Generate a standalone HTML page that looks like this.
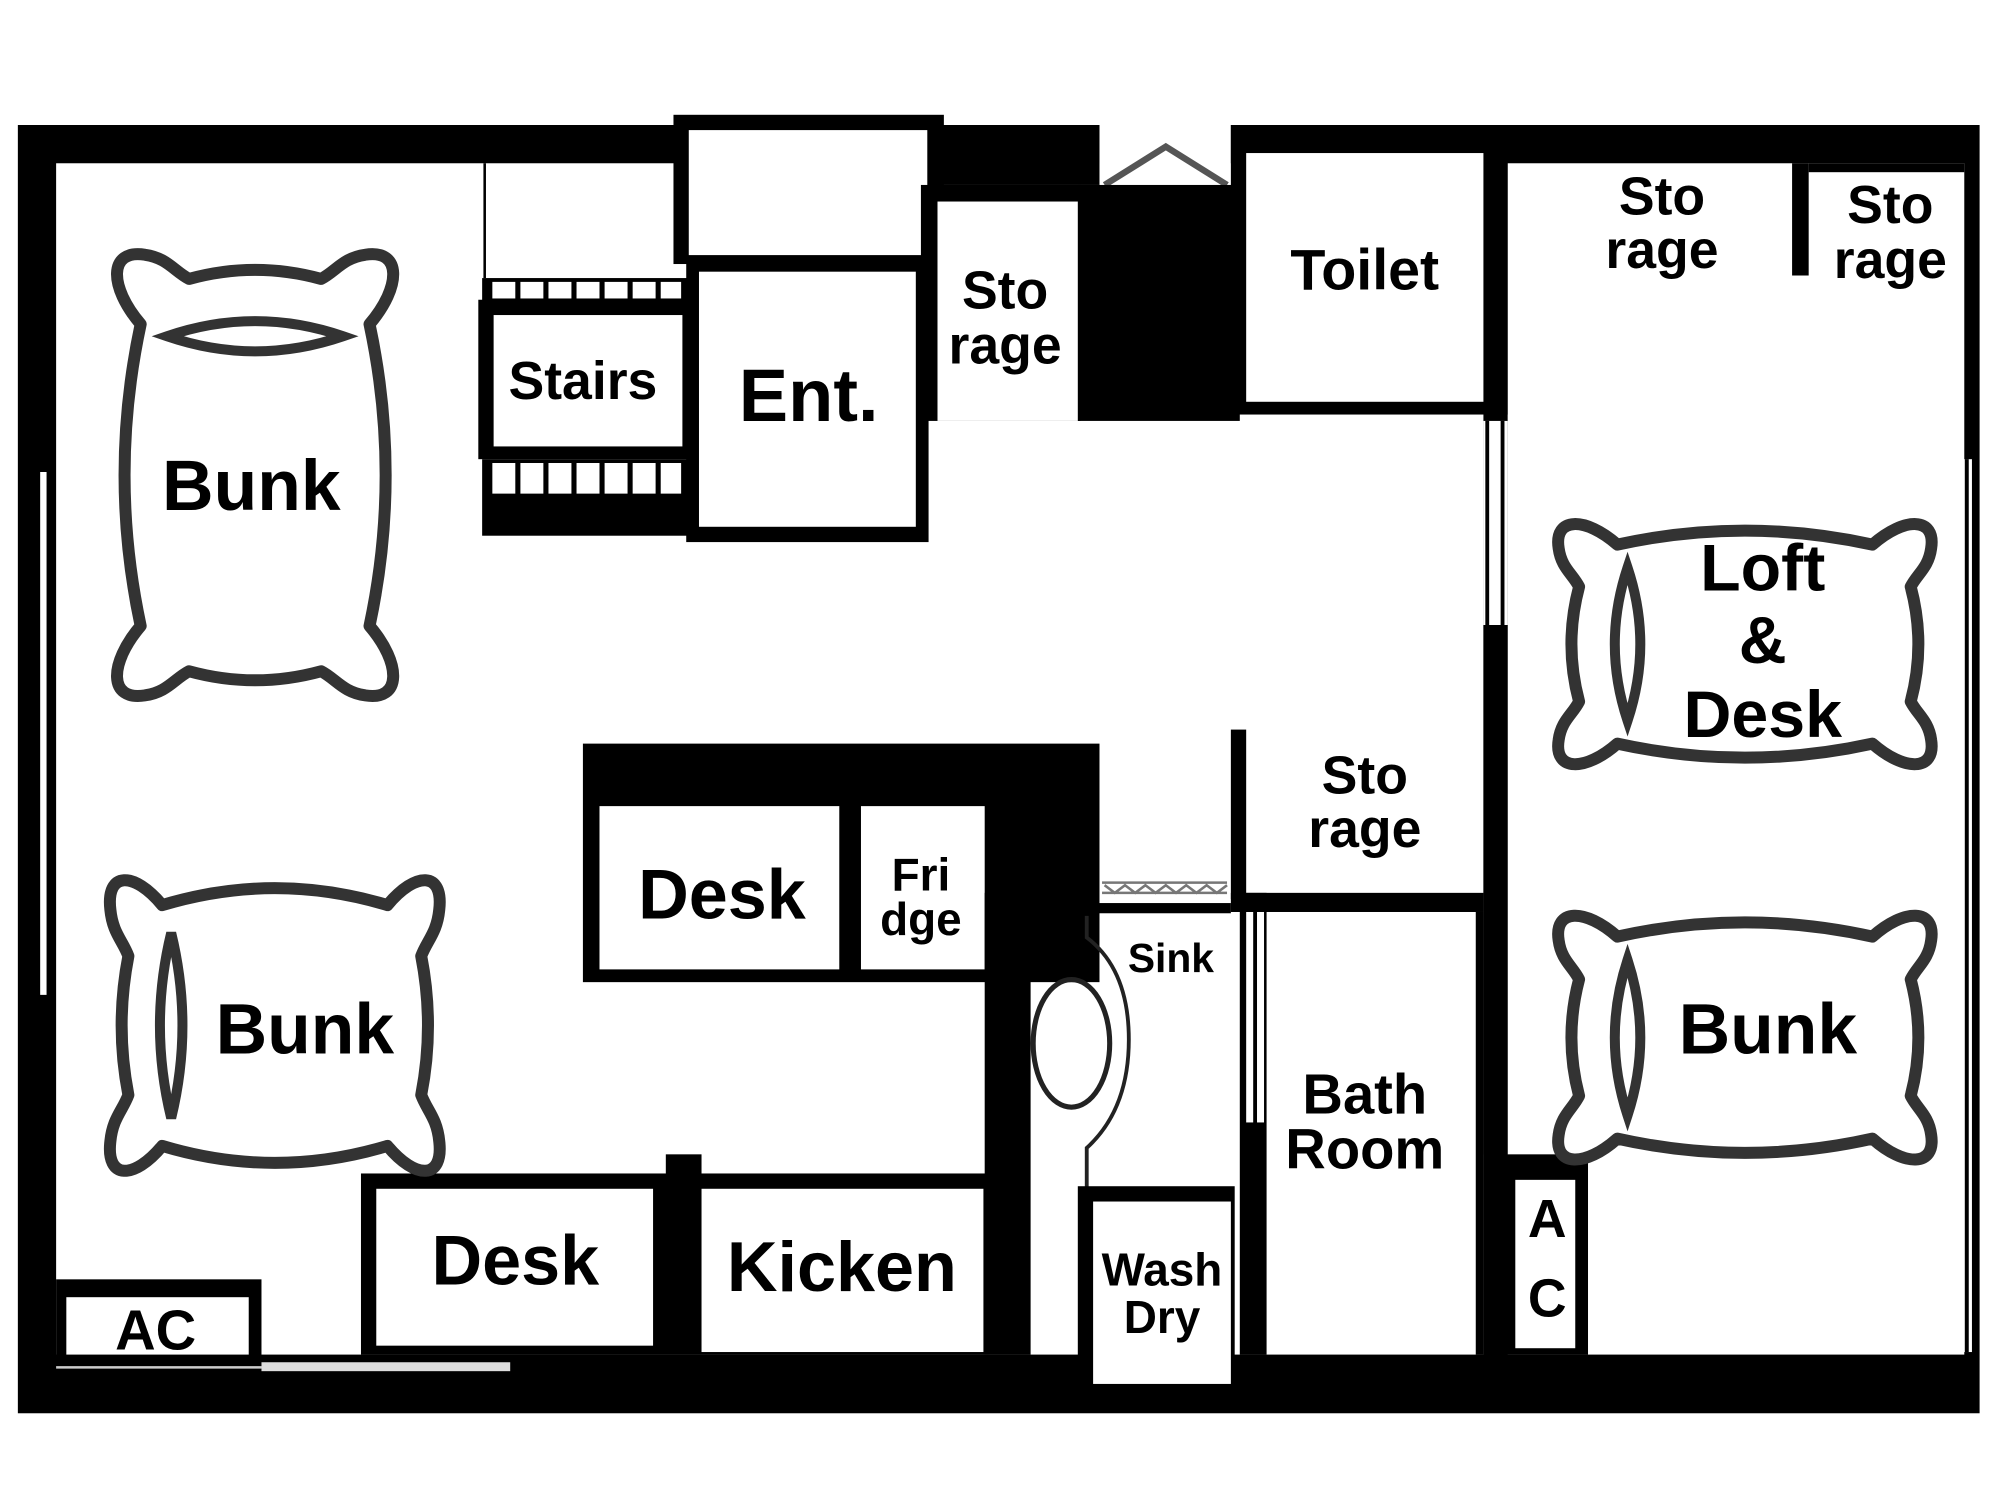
<!DOCTYPE html>
<html><head><meta charset="utf-8"><style>
html,body{margin:0;padding:0;background:#fff;}
svg{display:block;}
text{font-family:"Liberation Sans",sans-serif;font-weight:bold;fill:#000;text-anchor:middle;}
</style></head><body>
<svg width="2000" height="1500" viewBox="0 0 1568 1176" xmlns="http://www.w3.org/2000/svg">
<defs>
<g id="pil">
<path d="M50,22 Q150,0 250,22 C275,0 300,0 296,25 C294,40 285,45 280,55 Q292,100 280,145 C285,155 294,160 296,175 C300,200 275,200 250,178 Q150,200 50,178 C25,200 0,200 4,175 C6,160 15,155 20,145 Q8,100 20,55 C15,45 6,40 4,25 C0,0 25,0 50,22 Z" fill="#fff" stroke="#333" stroke-width="12" vector-effect="non-scaling-stroke" stroke-linejoin="round"/>
<path d="M58,40 Q38,100 58,160 Q78,100 58,40 Z" fill="none" stroke="#333" stroke-width="10" vector-effect="non-scaling-stroke"/>
</g>
</defs>
<rect width="1568" height="1176" fill="#fff"/>
<rect x="14" y="98" width="1538" height="1010" fill="#000"/>
<rect x="44" y="128" width="1119" height="934" fill="#fff"/>
<rect x="1182" y="128" width="358" height="934" fill="#fff"/>
<rect x="1163" y="330" width="19" height="160" fill="#fff"/>
<line x1="1166" y1="330" x2="1166" y2="490" stroke="#000" stroke-width="3"/>
<line x1="1178" y1="330" x2="1178" y2="490" stroke="#000" stroke-width="3"/>
<rect x="1540" y="360" width="6" height="700" fill="#fff"/>
<line x1="1542" y1="360" x2="1542" y2="1060" stroke="#000" stroke-width="3"/>
<rect x="1405" y="128" width="13" height="88" fill="#000"/>
<rect x="1418" y="128" width="122" height="7" fill="#000"/>
<line x1="34" y1="370" x2="34" y2="780" stroke="#fff" stroke-width="5"/>
<rect x="862" y="90" width="103" height="55" fill="#fff"/>
<path d="M866,145 L914,115 L962,145" fill="none" stroke="#555" stroke-width="5"/>
<rect x="728" y="98" width="134" height="47" fill="#000"/>
<rect x="845" y="145" width="127" height="185" fill="#000"/>
<rect x="528" y="90" width="212" height="117" fill="#000"/>
<rect x="540" y="102" width="187" height="98" fill="#fff"/>
<rect x="722" y="145" width="125" height="185" fill="#000"/>
<rect x="735" y="158" width="110" height="172" fill="#fff"/>
<rect x="538" y="205" width="190" height="220" fill="#000"/>
<rect x="548" y="213" width="170" height="200" fill="#fff"/>
<line x1="380" y1="128" x2="380" y2="218" stroke="#000" stroke-width="2"/>
<rect x="378" y="218" width="162" height="18" fill="#000"/>
<g fill="#fff"><rect x="386" y="221" width="18" height="13"/><rect x="408" y="221" width="18" height="13"/><rect x="430" y="221" width="18" height="13"/><rect x="452" y="221" width="18" height="13"/><rect x="474" y="221" width="18" height="13"/><rect x="496" y="221" width="18" height="13"/><rect x="518" y="221" width="16" height="13"/></g>
<rect x="375" y="235" width="165" height="125" fill="#000"/>
<rect x="387" y="247" width="148" height="103" fill="#fff"/>
<rect x="378" y="360" width="162" height="60" fill="#000"/>
<g fill="#fff"><rect x="386" y="363" width="18" height="24"/><rect x="408" y="363" width="18" height="24"/><rect x="430" y="363" width="18" height="24"/><rect x="452" y="363" width="18" height="24"/><rect x="474" y="363" width="18" height="24"/><rect x="496" y="363" width="18" height="24"/><rect x="518" y="363" width="16" height="24"/></g>
<rect x="965" y="98" width="217" height="227" fill="#000"/>
<rect x="977" y="120" width="186" height="195" fill="#fff"/>
<rect x="1163" y="490" width="19" height="415" fill="#000"/>
<rect x="965" y="572" width="12" height="133" fill="#000"/>
<rect x="965" y="700" width="198" height="15" fill="#000"/>
<rect x="972" y="700" width="21" height="362" fill="#000"/>
<rect x="977" y="715" width="14" height="165" fill="#fff"/>
<line x1="984" y1="715" x2="984" y2="880" stroke="#000" stroke-width="3"/>
<rect x="1157" y="715" width="6" height="347" fill="#000"/>
<rect x="457" y="583" width="405" height="187" fill="#000"/>
<rect x="470" y="632" width="188" height="128" fill="#fff"/>
<rect x="675" y="632" width="97" height="128" fill="#fff"/>
<rect x="772" y="700" width="36" height="362" fill="#000"/>
<path d="M864,692 L962,692 M864,700 L962,700 M866,694 l8,6 l8,-6 l8,6 l8,-6 l8,6 l8,-6 l8,6 l8,-6 l8,6 l8,-6 l8,6 l8,-6" stroke="#777" stroke-width="2" fill="none"/>
<rect x="808" y="708" width="157" height="8" fill="#000"/>
<path d="M852,718 L852,735 Q885,760 885,815 Q885,870 852,900 L852,1000" fill="none" stroke="#222" stroke-width="3"/>
<ellipse cx="840" cy="818" rx="30" ry="50" fill="none" stroke="#222" stroke-width="4"/>
<rect x="845" y="930" width="123" height="160" fill="#000"/>
<rect x="857" y="942" width="108" height="143" fill="#fff"/>
<rect x="1180" y="905" width="65" height="157" fill="#000"/>
<rect x="1188" y="925" width="47" height="132" fill="#fff"/>
<rect x="283" y="920" width="492" height="142" fill="#000"/>
<rect x="295" y="932" width="217" height="123" fill="#fff"/>
<rect x="522" y="905" width="28" height="30" fill="#000"/>
<rect x="550" y="932" width="221" height="128" fill="#fff"/>
<rect x="44" y="1003" width="161" height="72" fill="#000"/>
<rect x="52" y="1017" width="143" height="45" fill="#fff"/>
<rect x="205" y="1068" width="195" height="7" fill="#ddd"/>
<line x1="44" y1="1072" x2="205" y2="1072" stroke="#ccc" stroke-width="2"/>
<use href="#pil" transform="translate(315,195) rotate(90) scale(1.183,1.15)"/>
<use href="#pil" transform="translate(83,683) scale(0.883,1.21)"/>
<use href="#pil" transform="translate(1218,405)"/>
<use href="#pil" transform="translate(1218,712) scale(1,1.015)"/>
<text x="197" y="400" font-size="56">Bunk</text>
<text x="239" y="826" font-size="56">Bunk</text>
<text x="1386" y="826" font-size="56">Bunk</text>
<text x="1382" y="463" font-size="52">Loft</text>
<text x="1382" y="520" font-size="52">&amp;</text>
<text x="1382" y="578" font-size="52">Desk</text>
<text x="457" y="313" font-size="42">Stairs</text>
<text x="634" y="330" font-size="58">Ent.</text>
<text x="788" y="242" font-size="42">Sto</text>
<text x="788" y="285" font-size="42">rage</text>
<text x="1070" y="227" font-size="45">Toilet</text>
<text x="1303" y="168" font-size="42">Sto</text>
<text x="1303" y="210" font-size="42">rage</text>
<text x="1482" y="175" font-size="42">Sto</text>
<text x="1482" y="218" font-size="42">rage</text>
<text x="1070" y="622" font-size="42">Sto</text>
<text x="1070" y="664" font-size="42">rage</text>
<text x="566" y="720" font-size="55">Desk</text>
<text x="722" y="698" font-size="36">Fri</text>
<text x="722" y="733" font-size="36">dge</text>
<text x="918" y="762" font-size="32">Sink</text>
<text x="1070" y="873" font-size="44">Bath</text>
<text x="1070" y="916" font-size="44">Room</text>
<text x="911" y="1008" font-size="36">Wash</text>
<text x="911" y="1045" font-size="36">Dry</text>
<text x="1213" y="970" font-size="42">A</text>
<text x="1213" y="1032" font-size="42">C</text>
<text x="404" y="1007" font-size="55">Desk</text>
<text x="660" y="1012" font-size="55">Kicken</text>
<text x="122" y="1058" font-size="44">AC</text>
</svg>
</body></html>
